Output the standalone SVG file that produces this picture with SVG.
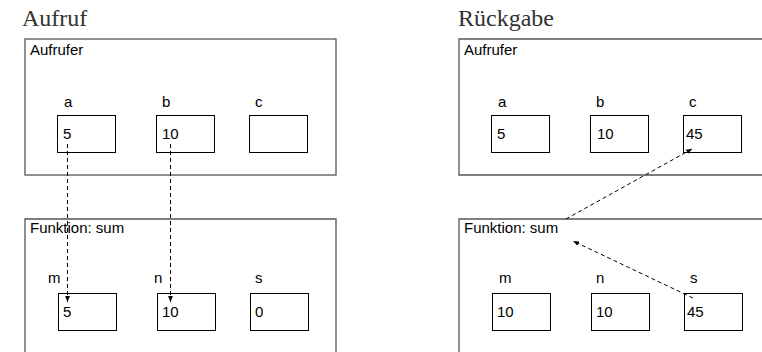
<svg xmlns="http://www.w3.org/2000/svg" width="762" height="352" viewBox="0 0 762 352">
<style>
.title{font-family:"Liberation Serif","DejaVu Serif",serif;font-size:24px;fill:#333}
.lbl{font-family:"Liberation Sans",Arial,sans-serif;font-size:15px;fill:#000}
.frame{fill:none;stroke:#555;stroke-width:1.3}
.box{fill:#fff;stroke:#000;stroke-width:1}
.conn{fill:none;stroke:#000;stroke-width:1;stroke-dasharray:4 3}
</style>
<defs>
<marker id="ah" viewBox="0 0 6 6" refX="6" refY="3" markerWidth="6" markerHeight="6" markerUnits="userSpaceOnUse" orient="auto">
<path d="M0,0.6 L6,3 L0,5.4 z" fill="#000"/>
</marker>
</defs>
<text class="title" x="22" y="26">Aufruf</text>
<text class="title" x="458" y="26">Rückgabe</text>

<g id="caller-left">
<rect class="frame" x="25" y="39" width="311" height="136"/>
<text class="lbl" x="30" y="55">Aufrufer</text>
</g>
<g id="func-left">
<path class="frame" d="M25,360 V219 H336 V360"/>
<text class="lbl" x="30" y="233">Funktion: sum</text>
</g>
<g id="a-left"><text class="lbl" x="64" y="107">a</text><rect class="box" x="57.5" y="115.5" width="58" height="37"/><text class="lbl" x="63" y="139">5</text></g>
<g id="b-left"><text class="lbl" x="162" y="107">b</text><rect class="box" x="156.5" y="115.5" width="58" height="37"/><text class="lbl" x="162" y="139">10</text></g>
<g id="c-left"><text class="lbl" x="255" y="107">c</text><rect class="box" x="249.5" y="115.5" width="58" height="37"/></g>
<g id="m-left"><text class="lbl" x="48" y="283">m</text><rect class="box" x="58.5" y="293.5" width="58" height="37"/><text class="lbl" x="63" y="317">5</text></g>
<g id="n-left"><text class="lbl" x="154" y="283">n</text><rect class="box" x="157.5" y="293.5" width="58" height="37"/><text class="lbl" x="162" y="317">10</text></g>
<g id="s-left"><text class="lbl" x="255" y="283">s</text><rect class="box" x="250.5" y="293.5" width="58" height="37"/><text class="lbl" x="255" y="317">0</text></g>

<g id="caller-right">
<path class="frame" d="M770,39 H459 V175 H770"/>
<text class="lbl" x="464" y="55">Aufrufer</text>
</g>
<g id="func-right">
<path class="frame" d="M459,360 V219 H770"/>
<text class="lbl" x="464" y="233">Funktion: sum</text>
</g>
<g id="a-right"><text class="lbl" x="498" y="107">a</text><rect class="box" x="491.5" y="115.5" width="58" height="37"/><text class="lbl" x="497" y="139">5</text></g>
<g id="b-right"><text class="lbl" x="596" y="107">b</text><rect class="box" x="590.5" y="115.5" width="58" height="37"/><text class="lbl" x="597" y="139">10</text></g>
<g id="c-right"><text class="lbl" x="689" y="107">c</text><rect class="box" x="683.5" y="115.5" width="58" height="37"/><text class="lbl" x="686" y="139">45</text></g>
<g id="m-right"><text class="lbl" x="499" y="283">m</text><rect class="box" x="492.5" y="293.5" width="58" height="37"/><text class="lbl" x="497" y="317">10</text></g>
<g id="n-right"><text class="lbl" x="596" y="283">n</text><rect class="box" x="591.5" y="293.5" width="58" height="37"/><text class="lbl" x="596" y="317">10</text></g>
<g id="s-right"><text class="lbl" x="690" y="283">s</text><rect class="box" x="684.5" y="293.5" width="58" height="37"/><text class="lbl" x="687" y="317">45</text></g>

<g id="connectors">
<line class="conn" x1="67.5" y1="144" x2="67.5" y2="302" marker-end="url(#ah)"/>
<line class="conn" x1="170.5" y1="144" x2="170.5" y2="302" marker-end="url(#ah)"/>
<line class="conn" x1="566" y1="219" x2="692" y2="149" marker-end="url(#ah)"/>
<line class="conn" x1="693" y1="298" x2="573" y2="241" marker-end="url(#ah)"/>
</g>
</svg>
